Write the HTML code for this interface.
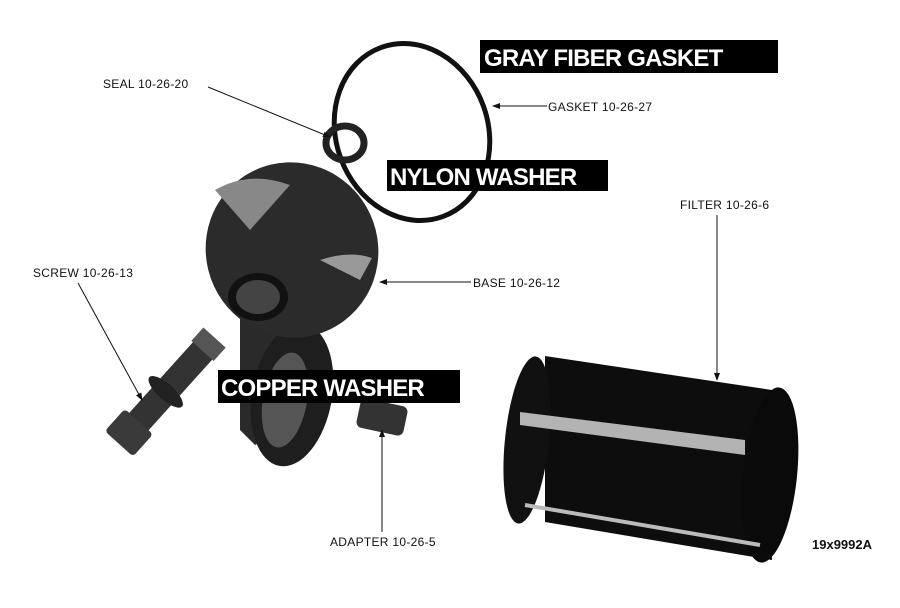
<!DOCTYPE html>
<html><head><meta charset="utf-8"><style>
html,body{margin:0;padding:0;background:#fff;}
svg{display:block}
.l{font-family:"Liberation Sans",sans-serif;font-size:12px;fill:#111;letter-spacing:0.3px}
.b{font-family:"Liberation Sans",sans-serif;font-weight:bold;fill:#fff;font-size:24px;letter-spacing:-0.8px}
</style></head><body>
<svg width="900" height="608" viewBox="0 0 900 608" xmlns="http://www.w3.org/2000/svg">
<defs>
<marker id="a" markerWidth="8" markerHeight="8" refX="7" refY="4" orient="auto" markerUnits="userSpaceOnUse"><path d="M0,1 L8,4 L0,7z" fill="#111"/></marker>
</defs>
<!-- gasket ring -->
<ellipse cx="412" cy="132" rx="76" ry="90" fill="none" stroke="#111" stroke-width="5" transform="rotate(-20 412 132)"/>
<!-- seal -->
<ellipse cx="345" cy="143" rx="19" ry="17" fill="none" stroke="#222" stroke-width="7"/>
<!-- base stem -->
<path d="M240,310 L300,300 L320,360 L300,420 L255,445 L240,430 Z" fill="#2a2a2a"/>
<ellipse cx="292" cy="395" rx="40" ry="72" fill="#1e1e1e" transform="rotate(10 292 395)"/>
<ellipse cx="285" cy="400" rx="22" ry="48" fill="#555" transform="rotate(10 285 400)"/>
<!-- base dome -->
<ellipse cx="292" cy="250" rx="86" ry="88" fill="#2b2b2b" transform="rotate(-25 292 250)"/>
<path d="M215,190 Q250,170 290,185 L250,230 Z" fill="#888"/>
<path d="M320,260 Q350,250 372,258 L360,280 Z" fill="#999"/>
<ellipse cx="258" cy="297" rx="30" ry="24" fill="#111"/>
<ellipse cx="258" cy="297" rx="22" ry="17" fill="#444"/>
<!-- screw -->
<g transform="rotate(-48 175 380)">
<rect x="115" y="368" width="115" height="26" fill="#333"/>
<rect x="215" y="366" width="18" height="30" fill="#555"/>
<ellipse cx="160" cy="381" rx="8" ry="22" fill="#222"/>
<rect x="90" y="362" width="30" height="38" rx="4" fill="#3a3a3a"/>
</g>
<!-- adapter -->
<rect x="358" y="402" width="48" height="30" rx="6" fill="#333" transform="rotate(12 382 417)"/>
<!-- filter -->
<path d="M545,356 L772,390 L772,560 L545,522 Z" fill="#0d0d0d"/>
<ellipse cx="527" cy="440" rx="22" ry="84" fill="#111" transform="rotate(6 527 440)"/>
<ellipse cx="770" cy="475" rx="27" ry="88" fill="#0a0a0a" transform="rotate(6 770 475)"/>
<path d="M520,412 L745,440 L745,455 L520,425 Z" fill="#ddd" opacity="0.8"/>
<path d="M525,505 L760,545" stroke="#bbb" stroke-width="4"/>
<!-- labels + leaders -->
<text class="l" x="103" y="88">SEAL 10-26-20</text>
<line x1="208" y1="87" x2="330" y2="137" stroke="#111" marker-end="url(#a)"/>
<text class="l" x="548" y="111">GASKET 10-26-27</text>
<line x1="547" y1="106" x2="493" y2="106" stroke="#111" marker-end="url(#a)"/>
<text class="l" x="680" y="209">FILTER 10-26-6</text>
<line x1="717" y1="215" x2="717" y2="380" stroke="#111" marker-end="url(#a)"/>
<text class="l" x="33" y="277">SCREW 10-26-13</text>
<line x1="78" y1="283" x2="142" y2="400" stroke="#111" marker-end="url(#a)"/>
<text class="l" x="473" y="287">BASE 10-26-12</text>
<line x1="471" y1="282" x2="380" y2="282" stroke="#111" marker-end="url(#a)"/>
<text class="l" x="330" y="546">ADAPTER 10-26-5</text>
<line x1="382" y1="532" x2="382" y2="430" stroke="#111" marker-end="url(#a)"/>
<text x="812" y="549" style="font-family:'Liberation Sans',sans-serif;font-weight:bold;font-size:13px;fill:#111">19x9992A</text>
<!-- boxes -->
<rect x="480" y="40" width="298" height="33" fill="#000"/>
<text class="b" x="484" y="66">GRAY FIBER GASKET</text>
<rect x="387" y="160" width="221" height="31" fill="#000"/>
<text class="b" x="390" y="185">NYLON WASHER</text>
<rect x="218" y="370" width="242" height="33" fill="#000"/>
<text class="b" x="221" y="396">COPPER WASHER</text>
</svg>
</body></html>
